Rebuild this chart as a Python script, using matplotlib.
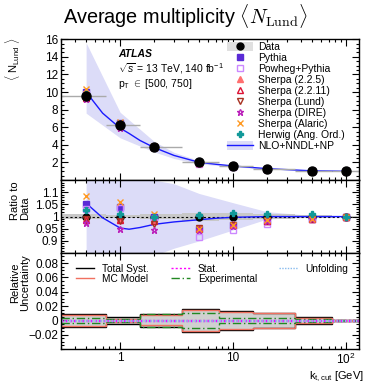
import numpy as np
import matplotlib
matplotlib.use('Agg')
import matplotlib.pyplot as plt
from matplotlib.lines import Line2D
from matplotlib.patches import Patch
from matplotlib.ticker import MultipleLocator, FixedLocator, LogLocator, NullFormatter

plt.rcParams['font.family'] = ['Liberation Sans', 'DejaVu Sans']
plt.rcParams['mathtext.fontset'] = 'custom'
plt.rcParams['mathtext.rm'] = 'Liberation Sans'
plt.rcParams['mathtext.it'] = 'Liberation Sans:italic'
plt.rcParams['mathtext.bf'] = 'Liberation Sans:bold'

# measured points and bins
kt = [0.5, 1, 2, 5, 10, 20, 50, 100]
bin_edges = [0.3, 0.75, 1.5, 3.5, 7.5, 15, 35, 75, 150]
data = [9.5, 6.2, 3.8, 2.05, 1.6, 1.3, 1.05, 1.0]

# relative uncertainties per bin (symmetric)
total_syst = [0.009, 0.005, 0.009, 0.0165, 0.013, 0.011, 0.0047, 0.001]
mc_model = [0.008, 0.0025, 0.007, 0.015, 0.012, 0.01, 0.003, 0.0005]
experimental = [0.004, 0.002, 0.009, 0.011, 0.0035, 0.004, 0.002, 0.0003]
stat = [0.0005, 0.0005, 0.0005, 0.0005, 0.0005, 0.0005, 0.0005, 0.0005]
unfolding = [0.0003, 0.0003, 0.0003, 0.0003, 0.0003, 0.0003, 0.0003, 0.0003]

# MC / data ratios
ratio_pythia = [1.05, 1.04, 1.0, 0.95, 0.965, 0.98, 0.99, 1.0]
ratio_powheg = [1.03, 1.035, 0.99, 0.915, 0.945, 0.97, 0.99, 1.0]
ratio_sh225 = [0.99, 0.99, 0.985, 0.955, 0.97, 0.98, 0.99, 1.0]
ratio_sh2211 = [0.985, 0.985, 0.98, 0.95, 0.965, 0.98, 0.99, 1.0]
ratio_shlund = [0.99, 0.98, 0.968, 0.955, 0.965, 0.98, 0.99, 1.0]
ratio_shdire = [0.975, 0.948, 0.945, 0.945, 0.96, 0.98, 0.99, 1.0]
ratio_alaric = [1.085, 1.06, 1.01, 0.95, 0.965, 0.985, 0.99, 1.0]
ratio_herwig = [1.025, 1.01, 0.997, 1.005, 1.015, 1.012, 1.012, 1.0]

# NLO+NNDL+NP prediction
nlo_kt = [0.5, 0.7, 1, 1.2, 1.5, 2, 3, 5, 7, 10, 20, 50, 100]
nlo = [10.0, 7.6, 5.9, 5.3, 4.5, 3.7, 2.8, 2.02, 1.8, 1.6, 1.3, 1.05, 1.0]
nlo_ratio = [1.055, 0.995, 0.953, 0.948, 0.955, 0.968, 0.978, 0.987, 0.993, 0.997, 1.0, 1.0, 1.0]
band_kt = [0.5, 1, 2, 3, 5, 10, 20, 50, 100]
band_hi = [15.6, 7.7, 4.4, 3.15, 2.22, 1.68, 1.32, 1.06, 1.0]
band_lo = [7.6, 4.8, 3.2, 2.45, 1.84, 1.5, 1.28, 1.04, 1.0]
rband_hi = [1.6, 1.3, 1.15, 1.135, 1.095, 1.057, 1.02, 1.005, 1.001]
rband_lo = [0.8, 0.78, 0.84, 0.87, 0.90, 0.945, 0.99, 0.997, 0.999]

models = [
    ('Pythia', ratio_pythia, dict(marker='s', color='#5a2bd6', mfc='#5a2bd6')),
    ('Powheg+Pythia', ratio_powheg, dict(marker='s', color='#cc88ff', mfc='none')),
    ('Sherpa (2.2.5)', ratio_sh225, dict(marker='^', color='#ff6f6f', mfc='#ff6f6f')),
    ('Sherpa (2.2.11)', ratio_sh2211, dict(marker='^', color='#dd1133', mfc='none')),
    ('Sherpa (Lund)', ratio_shlund, dict(marker='v', color='#a83222', mfc='none')),
    ('Sherpa (DIRE)', ratio_shdire, dict(marker='*', color='#bb22bb', mfc='none')),
    ('Sherpa (Alaric)', ratio_alaric, dict(marker='x', color='#ff9922', mfc='none')),
    ('Herwig (Ang. Ord.)', ratio_herwig, dict(marker='P', color='#119999', mfc='#119999')),
]

nlo_color = '#1a1aff'
band_color = '#dcdcf8'

fig = plt.figure(figsize=(3.70, 3.84), dpi=100)
L, R = 0.165, 0.970
ax1 = fig.add_axes([L, 0.531, R - L, 0.367])
ax2 = fig.add_axes([L, 0.341, R - L, 0.190], sharex=ax1)
ax3 = fig.add_axes([L, 0.091, R - L, 0.250], sharex=ax1)

kt_a = np.array(kt)
edges = np.array(bin_edges)
xerr = [kt_a - edges[:-1], edges[1:] - kt_a]

# ---- top panel
ax1.fill_between(band_kt, band_lo, band_hi, color=band_color, lw=0, zorder=1)
ax1.plot(nlo_kt, nlo, color=nlo_color, lw=1.0, zorder=2)
ax1.errorbar(kt, data, xerr=xerr, fmt='none', ecolor='#aaaaaa', elinewidth=1.0, zorder=2)
for name, r, st in models:
    ax1.plot(kt, np.array(data) * np.array(r), ls='none', ms=4.5, mew=1.0,
             zorder=3, **st)
ax1.plot(kt, data, 'o', color='black', ms=6.5, zorder=5)
ax1.set_ylim(0, 16)
ax1.yaxis.set_major_locator(FixedLocator([2, 4, 6, 8, 10, 12, 14, 16]))
ax1.yaxis.set_minor_locator(MultipleLocator(0.5))

fig.text(118 / 370, 1 - 57 / 384, 'ATLAS', fontsize=7.5, fontweight='bold',
         fontstyle='italic', va='baseline')
fig.text(118 / 370, 1 - 72 / 384, r'$\sqrt{s}$ = 13 TeV, 140 fb$^{-1}$',
         fontsize=7.5, va='baseline')
fig.text(118 / 370, 1 - 87 / 384, r'p$_{\rm T}$ $\in$ [500, 750]',
         fontsize=7.5, va='baseline')

leg_handles = [(Patch(color='#e0e0e0', lw=0),
                Line2D([], [], marker='o', color='black', ls='none', ms=5))]
leg_labels = ['Data']
for name, r, st in models:
    leg_handles.append(Line2D([], [], ls='none', ms=4.5, mew=1.0, **st))
    leg_labels.append(name)
leg_handles.append((Patch(color=band_color, lw=0),
                    Line2D([], [], color=nlo_color, lw=1.0)))
leg_labels.append('NLO+NNDL+NP')
ax1.legend(leg_handles, leg_labels, loc='upper left',
           bbox_to_anchor=(227 / 370, 1 - 42 / 384), bbox_transform=fig.transFigure,
           frameon=False, fontsize=7.5, handlelength=2.5, handleheight=0.9,
           handletextpad=0.5, labelspacing=0.1, borderpad=0, borderaxespad=0)

# ---- ratio panel
ax2.fill_between(band_kt, rband_lo, rband_hi, color=band_color, lw=0, zorder=1)
tot = np.array(total_syst)
ax2.stairs(1 + tot, edges, baseline=1 - tot, fill=True, facecolor='#c8c8c8',
           edgecolor='#c8c8c8', zorder=2)
ax2.axhline(1, color='black', ls=(0, (2, 2)), lw=0.8, zorder=3)
ax2.plot(nlo_kt, nlo_ratio, color=nlo_color, lw=1.0, zorder=3)
ax2.plot(kt, np.ones(len(kt)), 'o', color='black', ms=5, zorder=3)
for name, r, st in models:
    ax2.plot(kt, r, ls='none', ms=4.5, mew=1.0, zorder=4, **st)
ax2.set_ylim(0.85, 1.15)
ax2.yaxis.set_major_locator(FixedLocator([0.9, 0.95, 1.0, 1.05, 1.1]))
ax2.yaxis.set_major_formatter(plt.FuncFormatter(lambda v, p: ('%g' % v)))
ax2.yaxis.set_minor_locator(MultipleLocator(0.01))

# ---- uncertainty panel
ax3.stairs(tot, edges, baseline=-tot, fill=True, facecolor='#d0d0d0',
           edgecolor='black', lw=1.0, zorder=1)
for vals, col, ls, lw in [(mc_model, '#f07060', '-', 1.0),
                          (experimental, '#228822', (0, (6, 2, 1, 2)), 1.0),
                          (stat, '#ff00ff', (0, (1.5, 1.5)), 1.0),
                          (unfolding, '#88bbee', (0, (1, 1)), 1.0)]:
    v = np.array(vals)
    ax3.stairs(v, edges, baseline=None, color=col, ls=ls, lw=lw, zorder=2)
    ax3.stairs(-v, edges, baseline=None, color=col, ls=ls, lw=lw, zorder=2)
ax3.set_ylim(-0.04, 0.094)
ax3.yaxis.set_major_locator(FixedLocator([-0.02, 0, 0.02, 0.04, 0.06, 0.08]))
ax3.yaxis.set_major_formatter(plt.FuncFormatter(
    lambda v, p: ('\u22120.02' if v < 0 else ('0' if v == 0 else '%.2f' % v))))
ax3.yaxis.set_minor_locator(MultipleLocator(0.005))
unc_handles = [Line2D([], [], color='black', lw=1.0),
               Line2D([], [], color='#f07060', lw=1.0),
               Line2D([], [], color='#ff00ff', ls=(0, (1.5, 1.5)), lw=1.0),
               Line2D([], [], color='#228822', ls=(0, (6, 2, 1, 2)), lw=1.0),
               Line2D([], [], color='#88bbee', ls=(0, (1, 1)), lw=1.0)]
unc_labels = ['Total Syst.', 'MC Model', 'Stat.', 'Experimental', 'Unfolding']
ax3.legend(unc_handles, unc_labels, ncol=3, loc='upper left',
           bbox_to_anchor=(76 / 370, 1 - 264 / 384), bbox_transform=fig.transFigure,
           frameon=False, fontsize=7.3, handlelength=1.8, handletextpad=0.8,
           labelspacing=0.0, columnspacing=2.2, borderpad=0, borderaxespad=0)

# ---- x axis
ax1.set_xscale('log')
ax1.set_xlim(0.3, 130)
ax3.xaxis.set_major_locator(FixedLocator([1, 10, 100]))
ax3.xaxis.set_major_formatter(plt.FuncFormatter(
    lambda v, p: {1: '1', 10: '10', 100: r'10$^{2}$'}.get(int(round(v)), '')))
ax3.xaxis.set_minor_locator(LogLocator(base=10, subs=np.arange(2, 10), numticks=20))
ax3.xaxis.set_minor_formatter(NullFormatter())

for ax in (ax1, ax2, ax3):
    ax.tick_params(which='both', direction='in', top=True, right=True, labelsize=8.5,
                   pad=2)
    ax.tick_params(which='major', length=5, width=0.8)
    ax.tick_params(which='minor', length=2.5, width=0.8)
    for s in ax.spines.values():
        s.set_linewidth(1.0)
for ax in (ax1, ax2):
    plt.setp(ax.get_xticklabels(), visible=False)

# labels
fig.text(63 / 370, 1 - 24 / 384,
         r'Average multiplicity $\langle N_{\mathrm{Lund}}\rangle$',
         fontsize=14.3, va='baseline', math_fontfamily='cm')
fig.text(13 / 370, 1 - 38 / 384, r'$\langle$ N$_{\rm Lund}$ $\rangle$', rotation=90,
         fontsize=8, ha='center', va='top')
fig.text(20 / 370, 1 - 181 / 384, 'Ratio to\nData', rotation=90, fontsize=8,
         ha='center', va='top', multialignment='left', linespacing=0.95)
fig.text(20 / 370, 1 - 254 / 384, 'Relative\nUncertainty', rotation=90, fontsize=8,
         ha='center', va='top', multialignment='center', linespacing=0.95)
fig.text(364 / 370, 1 - 379 / 384, r'k$_{\rm t,cut}$ [GeV]', fontsize=8,
         ha='right', va='baseline')

fig.savefig('out.png', dpi=100)
